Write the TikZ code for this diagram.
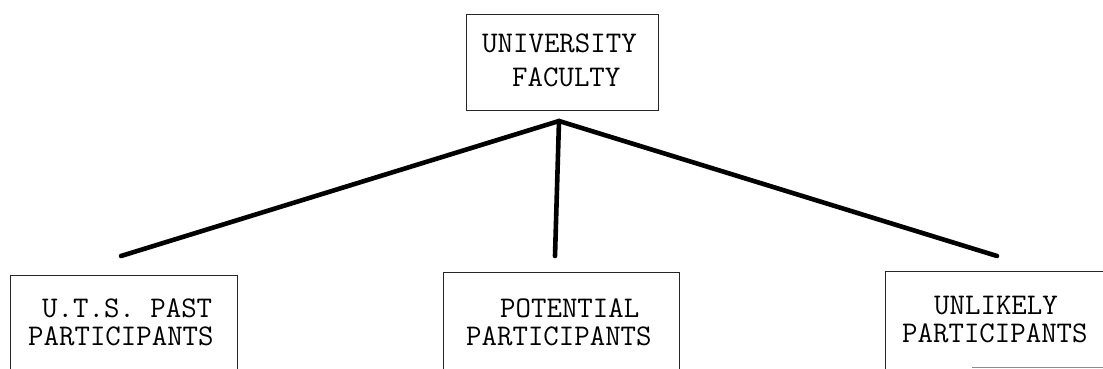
\documentclass[tikz,border=0pt]{standalone}
\begin{document}
\begin{tikzpicture}[x=1pt,y=-1pt,
  boxline/.style={draw=black!85,line width=1pt},
  branch/.style={draw=black,line width=4.6pt,line cap=round},
  label/.style={inner sep=0pt,anchor=base west,font=\fontsize{30}{30}\selectfont\ttfamily}]
  % page area
  \useasboundingbox (0,0) rectangle (1103,369);

  % top box
  \node[boxline,minimum width=192pt,minimum height=96pt,inner sep=0pt,anchor=north west] (faculty) at (466,14) {};
  \node[label] (uni) at (482,53) {UNIVERSITY};
  \node[label] (fac) at (512,86) {FACULTY};

  % bottom boxes, open at the lower edge
  \draw[boxline] (10,369) |- (237,275) -- (237,369);
  \draw[boxline] (443,369) |- (679,272) -- (679,369);
  \draw[boxline] (885,369) |- (1103,271);
  \draw[draw=black!45,line width=1pt] (972,367.5) -- (1103,367.5);

  \node[label] (past1) at (42,317) {U.T.S. PAST};
  \node[label] (past2) at (28,345) {PARTICIPANTS};
  \node[label] (pot1) at (500,317) {POTENTIAL};
  \node[label] (pot2) at (466,345) {PARTICIPANTS};
  \node[label] (unl1) at (934,314) {UNLIKELY};
  \node[label] (unl2) at (902,342) {PARTICIPANTS};

  % branching connectors
  \coordinate (apex) at (559,121);
  \coordinate (lend) at (121,256);
  \coordinate (mend) at (555,256);
  \coordinate (rend) at (997,256);
  \draw[branch] (lend) -- (apex) -- (rend);
  \draw[branch] (apex) -- (mend);
\end{tikzpicture}
\end{document}
